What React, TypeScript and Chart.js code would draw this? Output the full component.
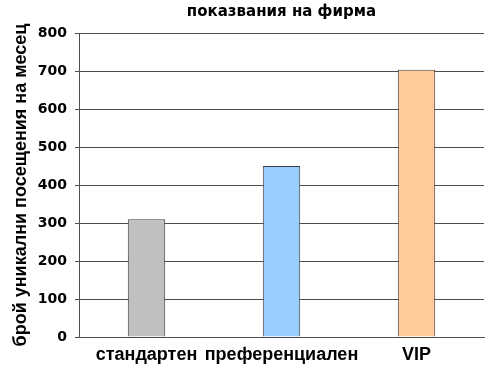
import React, { useEffect, useRef } from "react";
import { Chart, registerables } from "chart.js";

Chart.register(...registerables);

const categories = ["стандартен", "преференциален", "VIP"];
const visits = [310, 450, 703];
const barColors = ["#C0C0C0", "#99CCFF", "#FFCC99"];
const yTicks = [0, 100, 200, 300, 400, 500, 600, 700, 800];
const chartTitle = "показвания на фирма";
const yTitle = "брой уникални посещения на месец";

const FONT = "'Liberation Sans', Arial, sans-serif";
const WIDE = "'DejaVu Sans', sans-serif";
const LINE = "#4d4d4d";

export default function App() {
  const ref = useRef<HTMLCanvasElement | null>(null);

  useEffect(() => {
    document.body.style.margin = "0";
    const canvas = ref.current;
    if (!canvas) return;
    const chart = new Chart(canvas, {
      type: "bar",
      data: {
        labels: categories,
        datasets: [
          {
            data: visits,
            backgroundColor: barColors,
            borderColor: "#404040",
            borderWidth: 1,
            categoryPercentage: 1,
            barPercentage: 0.277,
          },
        ],
      },
      options: {
        responsive: false,
        animation: false,
        devicePixelRatio: 1,
        layout: { padding: { left: 0, right: 7, top: 0, bottom: 0 } },
        plugins: {
          legend: { display: false },
          tooltip: { enabled: false },
          title: {
            display: true,
            text: chartTitle,
            color: "#000",
            fullSize: false,
            font: { family: WIDE, size: 15, weight: "bold", lineHeight: 1.2 },
            padding: { top: 3.5, bottom: 11.5 },
          },
        },
        scales: {
          x: {
            type: "category",
            offset: true,
            grid: {
              offset: true,
              drawTicks: false,
              color: (c: any) =>
                c.index === categories.length ? LINE : "rgba(0,0,0,0)",
              lineWidth: 1,
            },
            border: { display: true, color: LINE, width: 1 },
            ticks: {
              color: "#000",
              padding: 7,
              font: { family: FONT, size: 18, weight: "bold" },
              maxRotation: 0,
              autoSkip: false,
            },
            afterFit: (s: any) => {
              s.height = 34;
            },
          },
          y: {
            min: 0,
            max: 800,
            afterBuildTicks: (s: any) => {
              s.ticks = yTicks.map((v) => ({ value: v }));
            },
            grid: {
              color: LINE,
              lineWidth: 1,
              drawTicks: true,
              tickLength: 4,
            },
            border: { display: true, color: LINE, width: 1 },
            ticks: {
              color: "#000",
              padding: 8,
              font: { family: WIDE, size: 14, weight: "bold" },
            },
            title: {
              display: true,
              text: yTitle,
              color: "#000",
              font: { family: FONT, size: 18, weight: "bold", lineHeight: 1.2 },
              padding: { top: 10, bottom: 0 },
            },
            afterFit: (s: any) => {
              s.width = 79;
            },
          },
        },
      },
    });
    return () => chart.destroy();
  }, []);

  return (
    <div style={{ width: 491, height: 371, background: "#fff" }}>
      <canvas ref={ref} width={491} height={371} />
    </div>
  );
}
